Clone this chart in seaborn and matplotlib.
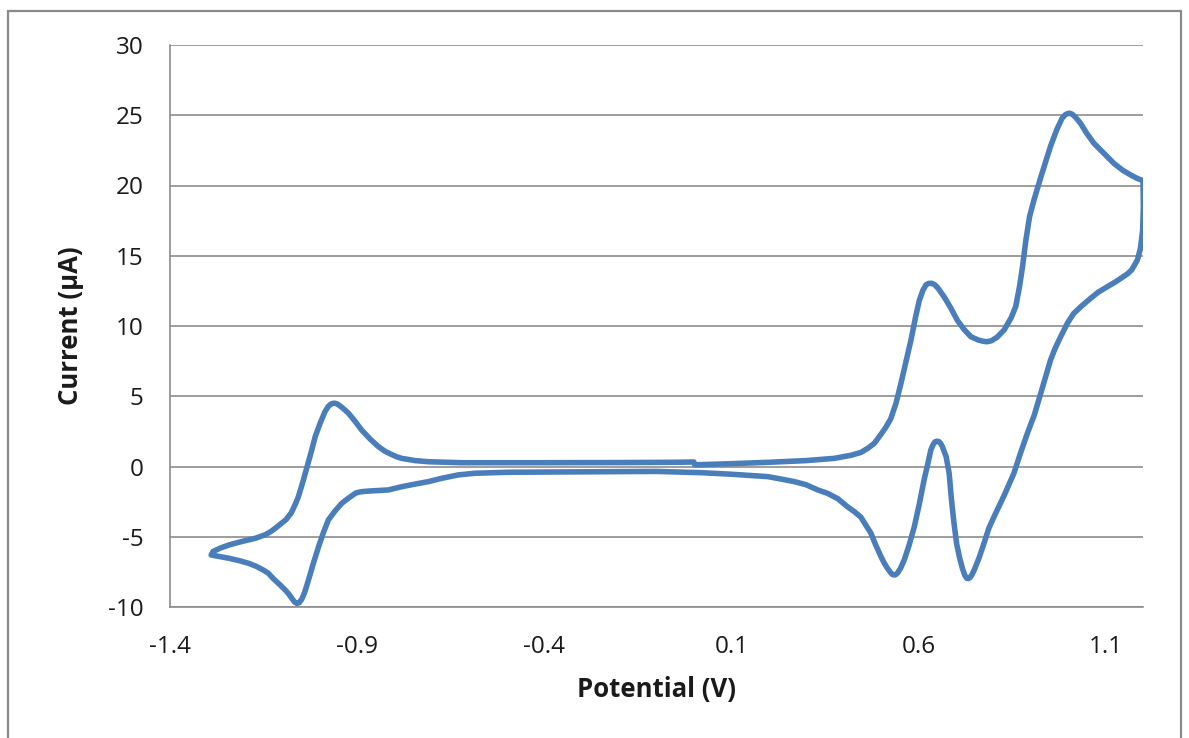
import numpy as np
import pandas as pd
import matplotlib
matplotlib.use("Agg")
import matplotlib.pyplot as plt
import seaborn as sns
from matplotlib.patches import Rectangle

# ---- data ----
# forward (upper) branch, 0 V -> 1.2 V
fwd_v = [0.002, 0.1, 0.2, 0.3, 0.375, 0.42, 0.446, 0.465, 0.482, 0.50, 0.513, 0.526, 0.540,
         0.553, 0.566, 0.580, 0.592, 0.602,
         0.612, 0.620, 0.627, 0.635, 0.643, 0.652, 0.668, 0.686, 0.704, 0.722, 0.740, 0.760,
         0.772, 0.783, 0.795, 0.810, 0.829, 0.848, 0.860, 0.870,
         0.878, 0.887, 0.897, 0.909, 0.927, 0.953, 0.970, 0.984, 0.993, 1.000, 1.005, 1.012,
         1.020, 1.033, 1.050, 1.069, 1.095, 1.122, 1.145, 1.167, 1.185, 1.200]
fwd_i = [0.12, 0.2, 0.3, 0.42, 0.58, 0.8, 1.0, 1.3, 1.65, 2.3, 2.8, 3.4, 4.5,
         5.9, 7.4, 9.0, 10.6, 11.8,
         12.55, 12.92, 13.03, 13.04, 12.95, 12.7, 12.1, 11.3, 10.4, 9.75, 9.24, 9.0,
         8.92, 8.88, 8.95, 9.2, 9.72, 10.6, 11.4, 12.8,
         14.2, 16.1, 17.8, 19.0, 20.6, 22.8, 24.0, 24.8, 25.05, 25.13, 25.14, 25.05,
         24.85, 24.43, 23.7, 23.0, 22.3, 21.58, 21.1, 20.75, 20.5, 20.34]
# reverse (lower) branch, 1.2 V -> -1.29 V
rev_v = [1.201, 1.199, 1.193, 1.185, 1.170, 1.158, 1.130, 1.105, 1.080, 1.060, 1.035, 1.015,
         0.998, 0.980, 0.965, 0.953, 0.940, 0.927, 0.910, 0.891, 0.872, 0.855, 0.830, 0.802,
         0.788, 0.775, 0.762, 0.749, 0.742, 0.737, 0.733, 0.729, 0.724, 0.718, 0.710,
         0.702, 0.695, 0.688, 0.682,
         0.674, 0.664, 0.659, 0.654, 0.649, 0.644, 0.639, 0.633, 0.625, 0.615, 0.602, 0.589,
         0.575, 0.562, 0.552, 0.545, 0.539, 0.535, 0.530, 0.524, 0.516, 0.508, 0.500,
         0.486, 0.473, 0.46, 0.446, 0.428, 0.41, 0.385,
         0.357, 0.331, 0.30, 0.269, 0.23, 0.197, 0.1, 0.019, -0.1, -0.3, -0.496, -0.585,
         -0.63, -0.674, -0.710, -0.745, -0.781, -0.817, -0.85, -0.870, -0.888, -0.903,
         -0.915, -0.928, -0.941,
         -0.960, -0.977, -0.990, -1.003, -1.017, -1.030, -1.040, -1.048, -1.055, -1.061,
         -1.067, -1.074, -1.082, -1.092, -1.105, -1.125, -1.137, -1.150, -1.170, -1.19,
         -1.215, -1.243, -1.27, -1.29]
rev_i = [18.5, 16.8, 15.5, 14.7, 14.0, 13.7, 13.2, 12.8, 12.4, 11.97, 11.4, 10.9,
         10.2, 9.24, 8.4, 7.58, 6.4, 5.21, 3.7, 2.36, 0.9, -0.48, -2.0, -3.57,
         -4.4, -5.47, -6.5, -7.37, -7.75, -7.92, -7.98, -7.95, -7.75, -7.3, -6.5,
         -5.5, -4.04, -2.3, -0.48,
         0.7, 1.41, 1.65, 1.78, 1.8, 1.75, 1.55, 1.17, 0.2, -0.96, -2.7, -4.28,
         -5.6, -6.65, -7.25, -7.55, -7.7, -7.72, -7.68, -7.5, -7.2, -6.85, -6.42,
         -5.6, -4.75, -4.2, -3.6, -3.2, -2.86, -2.3,
         -1.91, -1.67, -1.3, -1.08, -0.88, -0.72, -0.55, -0.44, -0.35, -0.38, -0.41, -0.48,
         -0.6, -0.84, -1.08, -1.25, -1.44, -1.67, -1.72, -1.75, -1.79, -1.88,
         -2.1, -2.35, -2.62,
         -3.2, -3.81, -4.7, -5.71, -6.9, -8.08, -8.95, -9.45, -9.7, -9.74,
         -9.65, -9.4, -9.1, -8.79, -8.45, -7.95, -7.6, -7.38, -7.1, -6.89,
         -6.7, -6.53, -6.4, -6.3]
# return (upper) branch, -1.29 V -> 0 V
ret_v = [-1.285, -1.265, -1.243, -1.21, -1.172, -1.145, -1.130, -1.119, -1.108, -1.090,
         -1.076, -1.064, -1.057, -1.045, -1.034, -1.022, -1.012, -1.000, -0.986, -0.977,
         -0.970, -0.964, -0.959, -0.953, -0.945, -0.935,
         -0.923, -0.905, -0.888, -0.865, -0.843, -0.825, -0.810, -0.795, -0.781, -0.745,
         -0.710, -0.621, -0.4, -0.2, -0.05, 0.0]
ret_i = [-6.05, -5.8, -5.59, -5.35, -5.11, -4.85, -4.62, -4.40, -4.17, -3.78,
         -3.3, -2.62, -2.15, -1.1, -0.06, 1.1, 2.12, 3.0, 3.9, 4.28,
         4.44, 4.5, 4.5, 4.45, 4.3, 4.08,
         3.79, 3.2, 2.6, 1.95, 1.41, 1.08, 0.88, 0.7, 0.58, 0.42,
         0.34, 0.27, 0.27, 0.28, 0.3, 0.32]

x_ticks = [-1.4, -0.9, -0.4, 0.1, 0.6, 1.1]
x_tick_labels = ["-1.4", "-0.9", "-0.4", "0.1", "0.6", "1.1"]
y_ticks = [-10, -5, 0, 5, 10, 15, 20, 25, 30]

potential = fwd_v + rev_v + ret_v
current = fwd_i + rev_i + ret_i
df = pd.DataFrame({"Potential (V)": potential, "Current (µA)": current})

sns.set_theme(style="white")
plt.rcParams["font.family"] = ["Open Sans", "DejaVu Sans"]
plt.rcParams["axes.unicode_minus"] = False

fig = plt.figure(figsize=(11.89, 7.38), dpi=100)
ax = fig.add_axes([170 / 1189, 1 - 607 / 738, (1143 - 170) / 1189, (607 - 45) / 738])

sns.lineplot(data=df, x="Potential (V)", y="Current (µA)", sort=False, estimator=None,
             color="#4A7EBB", linewidth=4.0, ax=ax, solid_joinstyle="round",
             solid_capstyle="round")

grey = "#8C8C8C"
ax.set_xlim(-1.4, 1.2)
ax.set_ylim(-10, 30)
ax.set_xticks(x_ticks)
ax.set_xticklabels(x_tick_labels)
ax.set_yticks(y_ticks)
ax.set_yticklabels([str(t) for t in y_ticks])
ax.yaxis.grid(True, color=grey, linewidth=1.2)
ax.xaxis.grid(False)
ax.set_axisbelow(True)
for s in ["top", "right"]:
    ax.spines[s].set_visible(False)
for s in ["left", "bottom"]:
    ax.spines[s].set_color(grey)
    ax.spines[s].set_linewidth(1.2)
ax.tick_params(axis="both", which="major", direction="out", length=7, width=1.2,
               color=grey, labelsize=17.5, labelcolor="#1a1a1a")
ax.tick_params(axis="y", pad=12)
ax.tick_params(axis="x", pad=13)

ax.set_xlabel("Potential (V)", fontsize=18.5, fontweight="bold", color="#1a1a1a")
ax.set_ylabel("Current (µA)", fontsize=18.5, fontweight="bold", color="#1a1a1a")
ax.xaxis.label.set_va("center")
ax.yaxis.label.set_va("center")
ax.xaxis.set_label_coords(0.5, (607 - 690) / 562)
ax.yaxis.set_label_coords((70 - 170) / 973, 0.5)

# outer chart border
fig.patches.append(Rectangle((8 / 1189, -0.05), (1181 - 8) / 1189, 1.05 - 11 / 738,
                             transform=fig.transFigure, fill=False, edgecolor="#8A8A8A",
                             linewidth=1.6))

fig.savefig("out.png", dpi=100)
